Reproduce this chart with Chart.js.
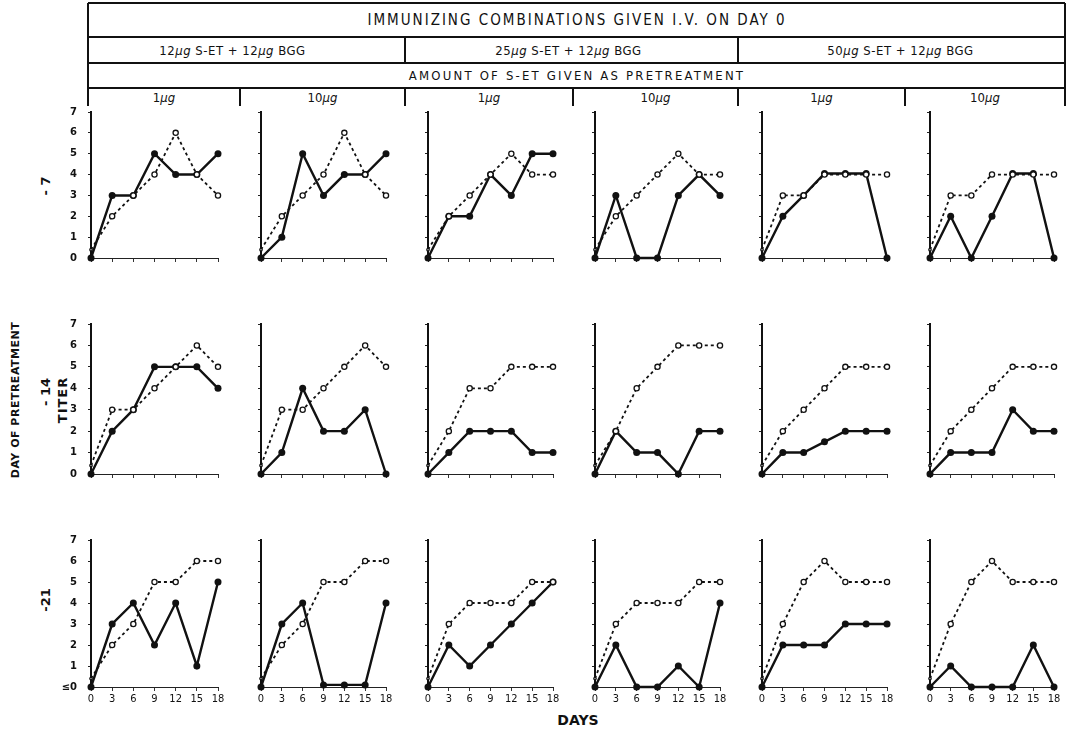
<!DOCTYPE html>
<html><head><meta charset="utf-8">
<script src="https://cdn.jsdelivr.net/npm/chart.js@4.4.1/dist/chart.umd.min.js"></script>
<style>
html,body{margin:0;padding:0;background:#fff;width:1070px;height:734px;overflow:hidden;position:relative;font-family:"Liberation Sans Narrow","DejaVu Sans Condensed","Liberation Sans",sans-serif;color:#111}
.ln{position:absolute;background:#111}
.tx{position:absolute;white-space:nowrap;transform:translate(-50%,-50%);line-height:1}
.rot{position:absolute;white-space:nowrap;transform:translate(-50%,-50%) rotate(-90deg);line-height:1;font-weight:bold;font-family:"DejaVu Sans","Liberation Sans",sans-serif}
canvas{position:absolute}
i{font-style:italic}
</style></head><body>
<script>
// ---- data ----
const days = [0, 3, 6, 9, 12, 15, 18];
const pretreatDays = ['-7', '-14', '-21'];
const immunizing = ['12µg S-ET + 12µg BGG', '25µg S-ET + 12µg BGG', '50µg S-ET + 12µg BGG'];
const pretreatAmounts = ['1µg', '10µg', '1µg', '10µg', '1µg', '10µg'];
const yTickLabels = ['0', '1', '2', '3', '4', '5', '6', '7'];
const yTickLabelsLast = ['≤0', '1', '2', '3', '4', '5', '6', '7'];
const xTickLabels = ['0', '3', '6', '9', '12', '15', '18'];

// solid line (filled dots), one list per panel, day -7 row
const solidM7 = [
  [0, 3, 3, 5, 4, 4, 5],
  [0, 1, 5, 3, 4, 4, 5],
  [0, 2, 2, 4, 3, 5, 5],
  [0, 3, 0, 0, 3, 4, 3],
  [0, 2, 3, 4.05, 4.05, 4.05, 0],
  [0, 2, 0, 2, 4.05, 4.05, 0]
];
const dottedM7 = [
  [0.4, 2, 3, 4, 6, 4, 3],
  [0.4, 2, 3, 4, 6, 4, 3],
  [0.4, 2, 3, 4, 5, 4, 4],
  [0.4, 2, 3, 4, 5, 4, 4],
  [0.4, 3, 3, 4, 4, 4, 4],
  [0.4, 3, 3, 4, 4, 4, 4]
];
const solidM14 = [
  [0, 2, 3, 5, 5, 5, 4],
  [0, 1, 4, 2, 2, 3, 0],
  [0, 1, 2, 2, 2, 1, 1],
  [0, 2, 1, 1, 0, 2, 2],
  [0, 1, 1, 1.5, 2, 2, 2],
  [0, 1, 1, 1, 3, 2, 2]
];
const dottedM14 = [
  [0.4, 3, 3, 4, 5, 6, 5],
  [0.4, 3, 3, 4, 5, 6, 5],
  [0.4, 2, 4, 4, 5, 5, 5],
  [0.4, 2, 4, 5, 6, 6, 6],
  [0.4, 2, 3, 4, 5, 5, 5],
  [0.4, 2, 3, 4, 5, 5, 5]
];
const solidM21 = [
  [0, 3, 4, 2, 4, 1, 5],
  [0, 3, 4, 0.1, 0.1, 0.1, 4],
  [0, 2, 1, 2, 3, 4, 5],
  [0, 2, 0, 0, 1, 0, 4],
  [0, 2, 2, 2, 3, 3, 3],
  [0, 1, 0, 0, 0, 2, 0]
];
const dottedM21 = [
  [0.4, 2, 3, 5, 5, 6, 6],
  [0.4, 2, 3, 5, 5, 6, 6],
  [0.4, 3, 4, 4, 4, 5, 5],
  [0.4, 3, 4, 4, 4, 5, 5],
  [0.4, 3, 5, 6, 5, 5, 5],
  [0.4, 3, 5, 6, 5, 5, 5]
];
const solidRows = [solidM7, solidM14, solidM21];
const dottedRows = [dottedM7, dottedM14, dottedM21];
</script>
<script>
// ---- layout ----
const axisX = [91, 261, 428, 595, 762, 930];
const endX  = [218, 386, 553, 720, 887, 1054];
const rowTop = [112, 324, 540];
const rowZero = [258, 474, 687];
const YW = 40, XH = 22, PT = 18, PR = 10;

function el(cls, css, html){const d=document.createElement('div');d.className=cls;Object.assign(d.style,css);if(html!==undefined)d.innerHTML=html;document.body.appendChild(d);return d;}
function hl(x1,x2,y,w){el('ln',{left:x1+'px',top:(y-w/2)+'px',width:(x2-x1)+'px',height:w+'px'});}
function vl(x,y1,y2,w){el('ln',{left:(x-w/2)+'px',top:y1+'px',width:w+'px',height:(y2-y1)+'px'});}
function fmt(s){return s.replace(/µg/g,'<i>µg</i>');}

// header table
hl(88,1065,3,1.5); hl(88,1065,37,1.5); hl(88,1065,63,1.5); hl(88,1065,88,1.5);
vl(88,3,106,1.5); vl(1065,3,106,1.5);
vl(405,37,63,1.5); vl(738,37,63,1.5);
[240,405,573,738,905].forEach(x=>vl(x,88,106,1.5));
el('tx',{left:'577px',top:'20px',fontSize:'15px',letterSpacing:'2px'},'IMMUNIZING COMBINATIONS GIVEN I.V. ON DAY 0');
const bigCols=[[88,405],[405,738],[738,1065]];
const bigOff=[-14,-3,-1];
immunizing.forEach((t,i)=>el('tx',{left:((bigCols[i][0]+bigCols[i][1])/2+bigOff[i])+'px',top:'50px',fontSize:'13px',letterSpacing:'0.5px'},fmt(t)));
el('tx',{left:'577px',top:'75px',fontSize:'13px',letterSpacing:'2.2px'},'AMOUNT OF S-ET GIVEN AS PRETREATMENT');
const subCols=[88,240,405,573,738,905,1065];
pretreatAmounts.forEach((t,i)=>el('tx',{left:((subCols[i]+subCols[i+1])/2)+'px',top:'97px',fontSize:'13px'},fmt(t)));

// left labels
el('rot',{left:'15px',top:'400px',fontSize:'11px',letterSpacing:'0.5px'},'DAY OF PRETREATMENT');
el('rot',{left:'45px',top:'186px',fontSize:'13px'},'- 7');
el('rot',{left:'45px',top:'392px',fontSize:'13px'},'- 14');
el('rot',{left:'62px',top:'400px',fontSize:'13px',letterSpacing:'1px'},'TITER');
el('rot',{left:'45px',top:'600px',fontSize:'13px'},'-21');
el('tx',{left:'578px',top:'720px',fontSize:'14px',fontWeight:'bold',fontFamily:'"DejaVu Sans",sans-serif'},'DAYS');

// panels
for(let r=0;r<3;r++){
  for(let c=0;c<6;c++){
    const pw=endX[c]-axisX[c], ph=rowZero[r]-rowTop[r];
    const cv=document.createElement('canvas');
    const W=pw+YW+PR, H=ph+PT+XH;
    cv.width=W; cv.height=H;
    cv.style.left=(axisX[c]-YW)+'px'; cv.style.top=(rowTop[r]-PT)+'px';
    cv.style.width=W+'px'; cv.style.height=H+'px';
    document.body.appendChild(cv);
    const solid=solidRows[r][c], dotted=dottedRows[r][c];
    const showX=(r===2);
    const yl = r===2 ? yTickLabelsLast : yTickLabels;
    const yCol = c===0 ? '#111' : 'rgba(0,0,0,0)';
    new Chart(cv,{
      type:'line',
      data:{datasets:[
        {data:days.map((d,i)=>({x:d,y:dotted[i]})),borderColor:'#111',borderWidth:1.8,borderDash:[3,3],
         pointRadius:dotted.map((v,i)=>i===0?1.2:2.6),pointBackgroundColor:'#fff',pointBorderColor:'#111',pointBorderWidth:1.3,
         tension:0,clip:false},
        {data:days.map((d,i)=>({x:d,y:solid[i]})),borderColor:'#111',borderWidth:2.4,
         pointRadius:3.5,pointBackgroundColor:'#111',pointBorderColor:'#111',pointBorderWidth:0,
         tension:0,clip:false}
      ]},
      options:{
        responsive:false,animation:false,devicePixelRatio:1,
        layout:{padding:{top:PT,right:PR,left:0,bottom:0}},
        plugins:{legend:{display:false},tooltip:{enabled:false}},
        scales:{
          x:{type:'linear',min:0,max:18,
             ticks:{stepSize:3,display:true,color:showX?'#111':'rgba(0,0,0,0)',font:{size:11,family:'"DejaVu Sans Condensed","DejaVu Sans",sans-serif'},padding:2,
                    callback:(v)=>{const i=days.indexOf(v);return i>=0?xTickLabels[i]:'';}},
             grid:{display:true,drawOnChartArea:false,drawTicks:true,tickLength:4,color:'#333',lineWidth:1},
             border:{display:true,color:'#222',width:1},
             afterFit:s=>{s.height=XH;}},
          y:{type:'linear',min:0,max:7,
             ticks:{stepSize:1,display:true,color:yCol,font:{size:10,weight:'bold',family:'"DejaVu Sans",sans-serif'},padding:11,
                    callback:(v)=>yl[v]!==undefined?yl[v]:''},
             grid:{display:true,drawOnChartArea:false,drawTicks:true,tickLength:3,color:'#222',lineWidth:1},
             border:{display:true,color:'#111',width:2},
             afterFit:s=>{s.width=YW;}}
        }
      }
    });
  }
}
</script>
</body></html>
